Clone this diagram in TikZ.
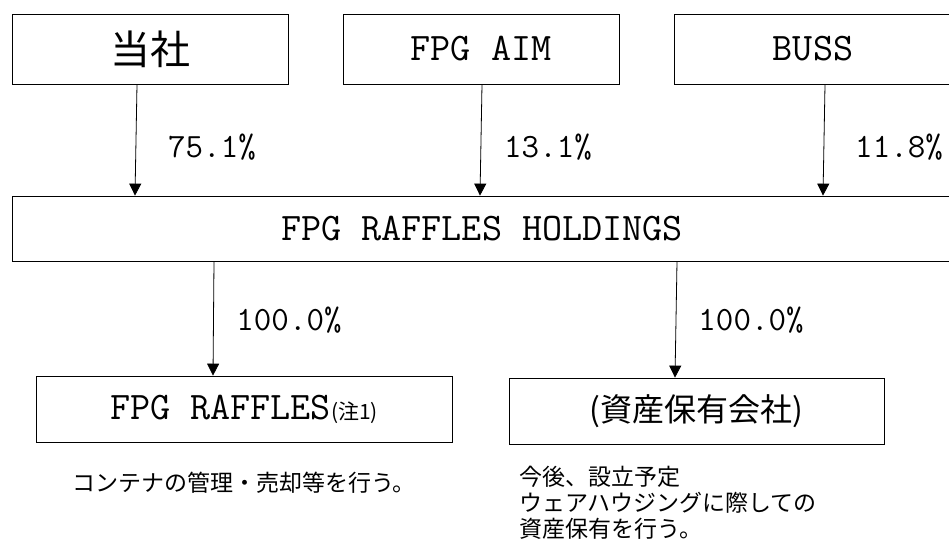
\documentclass[tikz,border=0pt]{standalone}
\usepackage{fontspec}
\newfontfamily\jpfont{Noto Sans CJK JP}
\usetikzlibrary{arrows.meta,calc}
\begin{document}
\begin{tikzpicture}[x=1pt,y=-1pt,line width=0.8pt,
                    box/.style={draw,inner sep=0pt,minimum height=70pt},
                    tip/.style={-{Triangle[length=12pt,width=12pt]}},
                    pct/.style={font=\ttfamily\fontsize{34}{36}\selectfont},
                    note/.style={font=\jpfont\fontsize{23}{26}\selectfont}]
                          \useasboundingbox (0,0) rectangle (949,542);
                          % shareholders
                          \node[box,minimum width=276pt,font=\jpfont\fontsize{40}{44}\selectfont] (tosha) at (150,49) {当社};
                          \node[box,minimum width=276pt,font=\ttfamily\fontsize{39}{42}\selectfont] (aim) at (481,49) {FPG AIM};
                          \node[box,minimum width=278pt,font=\ttfamily\fontsize{39}{42}\selectfont] (buss) at (813,49) {BUSS};
                          \node[box,minimum width=940pt,minimum height=65pt,font=\ttfamily\fontsize{39}{42}\selectfont] (hold) at (482,228.5) {FPG RAFFLES HOLDINGS};
                          % subsidiaries
                          \node[box,minimum width=416pt,minimum height=66pt] (raffles) at (244,409)
                               {\ttfamily\fontsize{39}{42}\selectfont FPG RAFFLES\jpfont\fontsize{21}{24}\selectfont(注1)};
                          \node[box,minimum width=375pt,minimum height=66pt,font=\jpfont\fontsize{32}{36}\selectfont] (asset) at (696.5,411) {(資産保有会社)};
                          \draw[tip] (tosha.south -| 137,0) -- (hold.north -| 135,0);
                          \draw[tip] (aim.south -| 482,0) -- (hold.north -| 480,0);
                          \draw[tip] (buss.south -| 825,0) -- (hold.north -| 823,0);
                          \draw[tip] (hold.south -| 214,0) -- (raffles.north -| 213,0);
                          \draw[tip] (hold.south -| 677,0) -- (asset.north -| 675,0);
                          \node[pct] (p1) at (212,147) {75.1\%};
                          \node[pct] (p2) at (548,147) {13.1\%};
                          \node[pct] (p3) at (899,147) {11.8\%};
                          \node[pct] (p4) at (289,320) {100.0\%};
                          \node[pct] (p5) at (751,320) {100.0\%};
                          \node[note] (n1) at (244,483) {コンテナの管理・売却等を行う。};
                          \node[note,align=left,anchor=north west,inner sep=0pt] (n2) at (519,466)
                               {今後、設立予定\\ウェアハウジングに際しての\\資産保有を行う。};
                    \end{tikzpicture}
\end{document}
